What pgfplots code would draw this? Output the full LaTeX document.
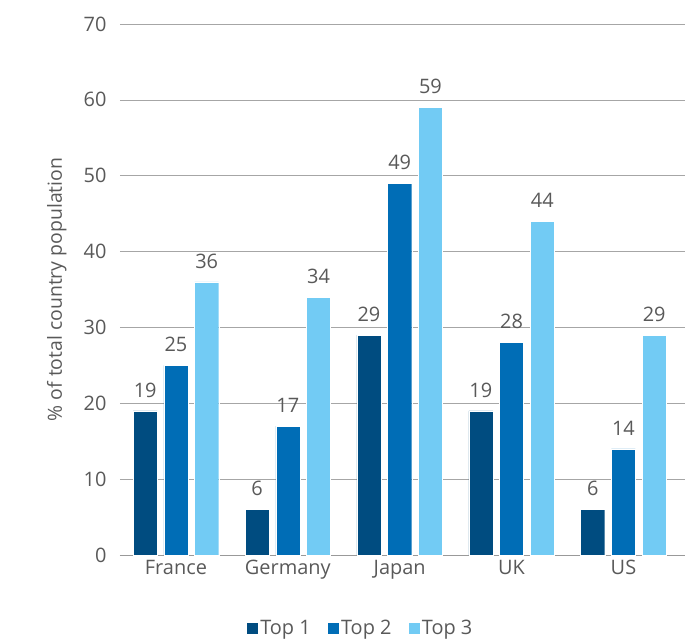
\documentclass[border=0pt]{standalone}
\usepackage{pgfplots}
\pgfplotsset{compat=1.18}
\usepackage{fontspec}
\setmainfont{Open Sans}
\usetikzlibrary{calc}

\definecolor{topone}{HTML}{004C80}
\definecolor{toptwo}{HTML}{006DB6}
\definecolor{topthree}{HTML}{72CBF4}
\definecolor{txt}{HTML}{595959}
\definecolor{gridc}{HTML}{A6A6A6}

% share of population, by country (0 France, 1 Germany, 2 Japan, 3 UK, 4 US)
\pgfplotstableread{
x v
0 19
1 6
2 29
3 19
4 6
}\topone
\pgfplotstableread{
x v
0 25
1 17
2 49
3 28
4 14
}\toptwo
\pgfplotstableread{
x v
0 36
1 34
2 59
3 44
4 29
}\topthree

\begin{document}
\begin{tikzpicture}[x=1bp,y=1bp]
\begin{axis}[
  scale only axis,
  width=565bp, height=531bp,
  xmin=-0.5, xmax=4.55,
  ymin=0, ymax=70,
  ytick={0,10,...,70},
  xtick=data,
  xticklabels={France,Germany,Japan,UK,US},
  axis x line*=bottom,
  axis y line*=left,
  y axis line style={draw=none},
  x axis line style={draw=gray!80, line width=0.8pt, -},
  ymajorgrids,
  grid style={gridc, line width=0.7pt},
  major tick length=0pt,
  tick style={draw=none},
  ticklabel style={font=\fontsize{20}{24}\selectfont, text=txt},
  yticklabel style={xshift=-10bp},
  xticklabel style={yshift=-2bp},
  /pgf/number format/assume math mode=true,
  ylabel={\% of total country population},
  every axis y label/.style={at={(rel axis cs:0,0.5)}, anchor=south, rotate=90,
    yshift=50bp, font=\fontsize{19.5}{23}\selectfont, text=txt},
  ybar, bar width=0.215,
  nodes near coords,
  every node near coord/.append style={font=\fontsize{20}{24}\selectfont, text=txt, yshift=10bp},
  legend style={at={(0.425,-0.115)}, anchor=north, draw=none, font=\fontsize{20}{24}\selectfont, text=txt,
    legend columns=3, /tikz/every even column/.append style={column sep=14bp}},
  legend image code/.code={\fill[#1] (0bp,-6bp) rectangle (12bp,6bp);},
  clip=false,
]
\addplot[fill=topone, draw=white, line width=0.4pt, bar shift=-0.275] table[x=x,y=v]{\topone};
\addplot[fill=toptwo, draw=white, line width=0.4pt, bar shift=0] table[x=x,y=v]{\toptwo};
\addplot[fill=topthree, draw=white, line width=0.4pt, bar shift=0.275] table[x=x,y=v]{\topthree};
\legend{Top 1,Top 2,Top 3}
\end{axis}
\path[use as bounding box] ($(current axis.south west)+(-120bp,-84bp)$) rectangle ($(current axis.north east)+(5bp,24bp)$);
\end{tikzpicture}
\end{document}
